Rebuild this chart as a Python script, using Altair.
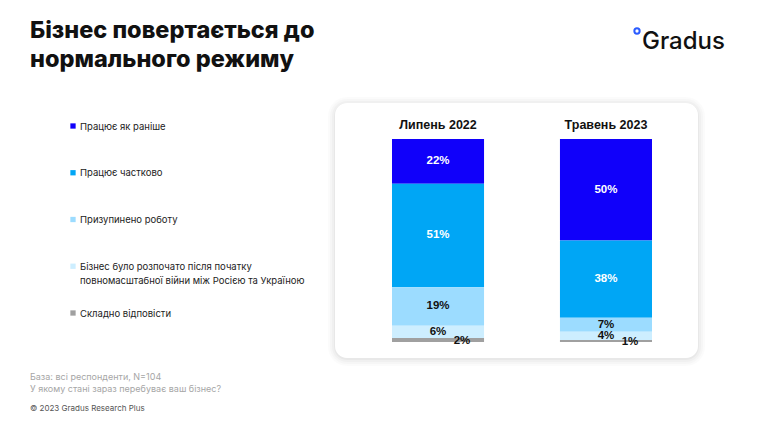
import pandas as pd
import altair as alt

# --- data ---
periods = ["Липень 2022", "Травень 2023"]
categories = [
    "Працює як раніше",
    "Працює частково",
    "Призупинено роботу",
    "Бізнес було розпочато після початку повномасштабної війни між Росією та Україною",
    "Складно відповісти",
]
legend_labels = [
    "Працює як раніше",
    "Працює частково",
    "Призупинено роботу",
    "Бізнес було розпочато після початку\nповномасштабної війни між Росією та Україною",
    "Складно відповісти",
]
share_2022 = [22, 51, 19, 6, 2]
share_2023 = [50, 38, 7, 4, 1]
palette = ["#1000fa", "#00a6f5", "#9cdcff", "#cdeeff", "#a0a0a0"]

title_text = "Бізнес повертається до\nнормального режиму"
footer_notes = ["База: всі респонденти, N=104", "У якому стані зараз перебуває ваш бізнес?"]
copyright_text = "© 2023 Gradus Research Plus"
logo_text = "Gradus"

FONT = "Inter"

# long table for the bars
rows = []
for p, vals in zip(periods, [share_2022, share_2023]):
    for i, (c, v) in enumerate(zip(categories, vals)):
        rows.append({"period": p, "cat": c, "idx": i, "value": v})
df = pd.DataFrame(rows)
legend_df = pd.DataFrame({"cat": categories, "label": legend_labels})
one = pd.DataFrame({"k": [0]})

# --- stacked bars ---
base = alt.Chart(df).transform_stack(
    stack="value", groupby=["period"],
    sort=[alt.SortField("idx", order="descending")],
    as_=["v0", "v1"],
).transform_calculate(mid="(datum.v0 + datum.v1) / 2", label="datum.value + '%'")

x_enc = alt.X("period:N",
              scale=alt.Scale(domain=periods, range=[384, 644], paddingInner=0.452, paddingOuter=0),
              axis=None)
y_scale = alt.Scale(domain=[0, 100], range=[334, 131])

bars = base.mark_bar().encode(
    x=x_enc,
    y=alt.Y("v0:Q", scale=y_scale, axis=None),
    y2="v1:Q",
    color=alt.Color("cat:N", scale=alt.Scale(domain=categories, range=palette), legend=None),
)

big_labels = base.transform_filter("datum.value > 2").mark_text(
    font="Liberation Sans", fontWeight="bold", fontSize=11.5, baseline="middle"
).encode(
    x=x_enc,
    y=alt.Y("mid:Q", scale=y_scale, axis=None),
    text="label:N",
    color=alt.condition("datum.idx < 2", alt.value("white"), alt.value("#111111")),
)

small_labels = base.transform_filter("datum.value <= 2").mark_text(
    font="Liberation Sans", fontWeight="bold", fontSize=11.5, baseline="middle", dx=24, dy=1,
    color="#111111"
).encode(
    x=x_enc,
    y=alt.Y("mid:Q", scale=y_scale, axis=None),
    text="label:N",
)

headers = alt.Chart(pd.DataFrame({"period": periods})).mark_text(
    font="Liberation Sans", fontWeight="bold", fontSize=12.5, color="#111111", baseline="middle"
).encode(x=x_enc, y=alt.value(117), text="period:N")

# --- white card with soft shadow ---
card_layers = []
for off, op in [(7, 0.015), (5, 0.02), (3, 0.025), (1, 0.03)]:
    card_layers.append(
        alt.Chart(one).mark_rect(cornerRadius=12 + off, color="#000000", opacity=op).encode(
            x=alt.value(327 - off), x2=alt.value(690 + off),
            y=alt.value(95 - off + 1), y2=alt.value(350 + off + 1))
    )
card_layers.append(
    alt.Chart(one).mark_rect(cornerRadius=12, color="white").encode(
        x=alt.value(327), x2=alt.value(690), y=alt.value(95), y2=alt.value(350))
)

# --- legend drawn by hand ---
leg_y = alt.Y("cat:N", scale=alt.Scale(type="point", domain=categories, range=[118, 305], padding=0),
              axis=None)
leg_squares = alt.Chart(legend_df).mark_square(size=28, opacity=1).encode(
    x=alt.value(65), y=leg_y, color=alt.Color("cat:N", legend=None)
)
leg_text = alt.Chart(legend_df).mark_text(
    font=FONT, fontSize=9.5, color="#222222", align="left", baseline="alphabetic",
    dy=3.5, lineBreak="\n", lineHeight=14
).encode(x=alt.value(72), y=leg_y, text="label:N")

# --- title, footer, logo ---
title = alt.Chart(one).mark_text(
    text=title_text, font=FONT, fontWeight=800, fontSize=23.5, color="#111111",
    align="left", baseline="alphabetic", lineBreak="\n", lineHeight=29
).encode(x=alt.value(22), y=alt.value(30))

notes = alt.Chart(one).mark_text(
    text="\n".join(footer_notes), font=FONT, fontSize=9, color="#a6a6a6",
    align="left", baseline="alphabetic", lineBreak="\n", lineHeight=12
).encode(x=alt.value(22), y=alt.value(372))

copy_note = alt.Chart(one).mark_text(
    text=copyright_text, font=FONT, fontSize=8, color="#555555",
    align="left", baseline="alphabetic"
).encode(x=alt.value(22), y=alt.value(403))

logo = alt.Chart(one).mark_text(
    text=logo_text, font=FONT, fontWeight=500, fontSize=24, color="#111111",
    align="left", baseline="alphabetic"
).encode(x=alt.value(634), y=alt.value(41))

logo_ring = alt.Chart(one).mark_point(
    shape="circle", filled=False, size=28, strokeWidth=2, color="#2b5cff", opacity=1
).encode(x=alt.value(629), y=alt.value(23))

chart = alt.layer(
    *card_layers, bars, big_labels, small_labels, headers,
    leg_squares, leg_text, title, notes, copy_note, logo, logo_ring
).resolve_scale(y="independent").properties(
    width=745, height=405, padding=0, autosize="none", background="white"
).configure_view(stroke=None)

chart.save("out.html", embed_options={"renderer": "svg", "actions": False})
